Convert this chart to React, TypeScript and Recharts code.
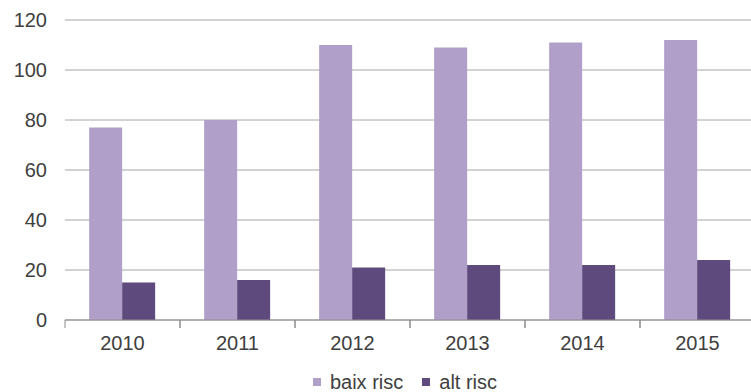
import { BarChart, Bar, XAxis, YAxis, CartesianGrid, Legend } from "recharts";

const YEARS = ["2010", "2011", "2012", "2013", "2014", "2015"];
const BAIX_RISC = [77, 80, 110, 109, 111, 112];
const ALT_RISC = [15, 16, 21, 22, 22, 24];
const Y_TICKS = [0, 20, 40, 60, 80, 100, 120];

const SERIES = [
  { key: "baix", name: "baix risc", color: "#b09fc8" },
  { key: "alt", name: "alt risc", color: "#5f4a7d" },
];

const FONT = "'Liberation Sans', Arial, sans-serif";
const TEXT = "#404040";
const AXIS = "#8c8c8c";

const data = YEARS.map((year, i) => ({
  year,
  baix: BAIX_RISC[i],
  alt: ALT_RISC[i],
}));

// category label plus the small marks at both band edges
function YearTick(props: any) {
  const { x, y, payload } = props;
  const half = payload?.offset ?? 57.5;
  return (
    <g>
      <line x1={x - half} y1={y} x2={x - half} y2={y + 8} stroke={AXIS} />
      <line x1={x + half} y1={y} x2={x + half} y2={y + 8} stroke={AXIS} />
      <text x={x} y={y + 30} textAnchor="middle" fill={TEXT} fontSize={20} fontFamily={FONT}>
        {payload.value}
      </text>
    </g>
  );
}

function LegendBox() {
  return (
    <div
      style={{
        height: 32,
        paddingTop: 11,
        paddingLeft: 55,
        boxSizing: "border-box",
        display: "flex",
        justifyContent: "center",
        alignItems: "center",
        fontFamily: FONT,
        fontSize: 20,
        color: TEXT,
        lineHeight: "16px",
      }}
    >
      {SERIES.map((s, i) => (
        <span key={s.key} style={{ display: "flex", alignItems: "center", marginLeft: i ? 19 : 0 }}>
          <span style={{ width: 8, height: 8, background: s.color, marginRight: 9, display: "inline-block" }} />
          {s.name}
        </span>
      ))}
    </div>
  );
}

export default function App() {
  return (
    <div style={{ position: "absolute", left: 0, top: 0, width: 751, height: 392, overflow: "hidden", background: "#fff" }}>
      <BarChart
        width={760}
        height={392}
        data={data}
        margin={{ top: 20, right: 5, left: 0, bottom: 0 }}
        barCategoryGap="21%"
        barGap={0}
      >
        <CartesianGrid vertical={false} stroke="#a6a6a6" />
        <XAxis
          dataKey="year"
          height={40}
          stroke={AXIS}
          tickLine={false}
          tickSize={0}
          tickMargin={0}
          tick={<YearTick />}
        />
        <YAxis
          width={65}
          domain={[0, 120]}
          ticks={Y_TICKS}
          axisLine={false}
          tickLine={false}
          tickMargin={12}
          tick={{ fill: TEXT, fontSize: 20, fontFamily: FONT }}
        />
        <Legend verticalAlign="bottom" content={<LegendBox />} />
        {SERIES.map((s) => (
          <Bar key={s.key} dataKey={s.key} name={s.name} fill={s.color} isAnimationActive={false} />
        ))}
      </BarChart>
    </div>
  );
}
